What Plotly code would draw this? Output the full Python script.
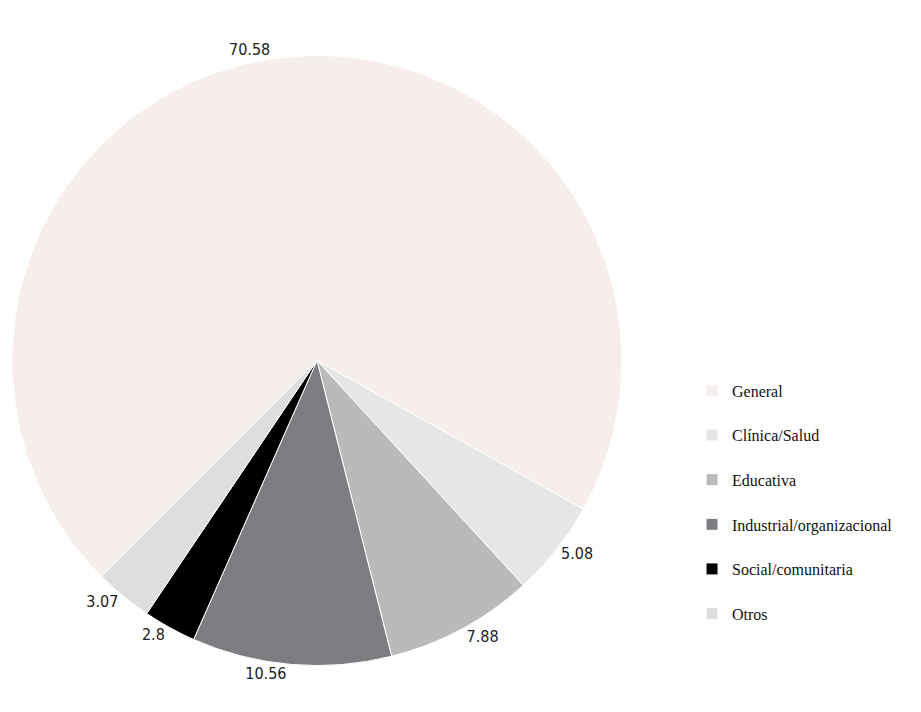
import plotly.graph_objects as go

# data
categories = ["General", "Clínica/Salud", "Educativa", "Industrial/organizacional",
              "Social/comunitaria", "Otros"]
values = [70.58, 5.08, 7.88, 10.56, 2.8, 3.07]
colors = ["#f5eeeb", "#e6e6e6", "#b9bbba", "#7b7d80", "#000000", "#dedede"]

# blank second line gives the wider legend spacing of the original
legend_labels = [c + "<br> " for c in categories]

fig = go.Figure(go.Pie(
    labels=legend_labels,
    values=values,
    sort=False,
    direction="clockwise",
    rotation=225,
    marker=dict(colors=colors, line=dict(color="white", width=1)),
    textinfo="value",
    textposition="outside",
    texttemplate="%{value}",
    hovertemplate="%{value}<extra></extra>",
    outsidetextfont=dict(family="DejaVu Sans Condensed", size=16, color="#222222"),
    domain=dict(x=[0.0043, 0.6667], y=[0.0765, 0.9333]),
))

fig.update_layout(
    width=921, height=712,
    margin=dict(l=0, r=0, t=0, b=0),
    paper_bgcolor="white",
    showlegend=True,
    legend=dict(x=0.7427, y=0.4865, xanchor="left", yanchor="top", valign="top",
                font=dict(family="Liberation Serif", size=16, color="#111111"),
                itemwidth=30),
)

fig.write_html("out.html")
